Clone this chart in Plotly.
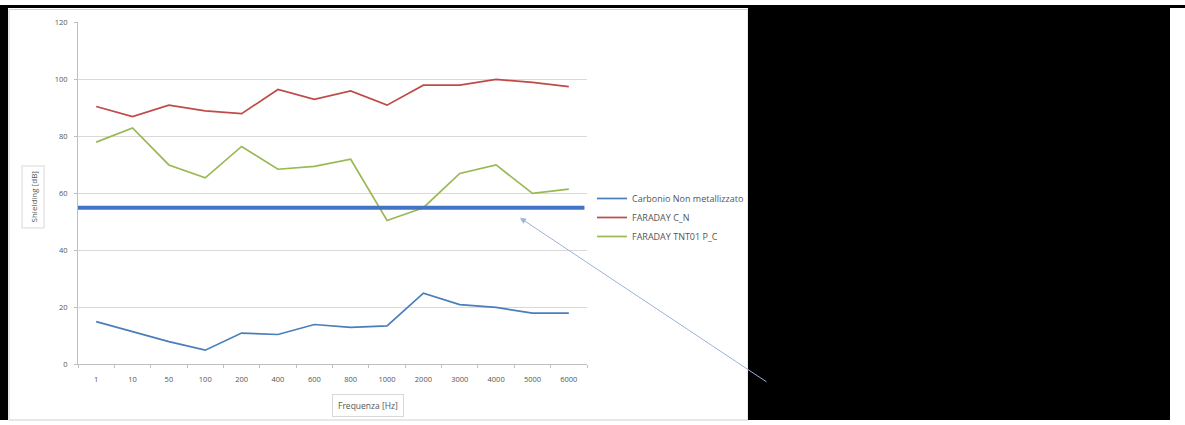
import plotly.graph_objects as go

# Frequencies (categorical axis) and measured shielding in dB
frequencies = ["1", "10", "50", "100", "200", "400", "600", "800",
               "1000", "2000", "3000", "4000", "5000", "6000"]
carbonio = [15, 11.5, 8, 5, 11, 10.5, 14, 13, 13.5, 25, 21, 20, 18, 18]
faraday_cn = [90.5, 87, 91, 89, 88, 96.5, 93, 96, 91, 98, 98, 100, 99, 97.5]
faraday_tnt = [78, 83, 70, 65.5, 76.5, 68.5, 69.5, 72, 50.5, 55, 67, 70, 60, 61.5]
threshold_db = 55
y_ticks = [0, 20, 40, 60, 80, 100, 120]

W, H = 1185, 425
FONT = "Open Sans"


def px_x(v):
    return v / W


def px_y(v):
    # vertical pixel position (from top) to paper fraction
    return min(1.0, max(0.0, 1 - ((v - 4.45) / 0.9796) / H))


fig = go.Figure()
fig.add_trace(go.Scatter(x=frequencies, y=carbonio, mode="lines",
                         name="Carbonio Non metallizzato",
                         line=dict(color="#4a7ebb", width=1.7)))
fig.add_trace(go.Scatter(x=frequencies, y=faraday_cn, mode="lines",
                         name="FARADAY C_N",
                         line=dict(color="#be4b48", width=1.7)))
fig.add_trace(go.Scatter(x=frequencies, y=faraday_tnt, mode="lines",
                         name="FARADAY TNT01 P_C",
                         line=dict(color="#98b954", width=1.7)))

shapes = [
    # thick reference level across the plot
    dict(type="line", xref="x domain", yref="y", x0=0, x1=0.995,
         y0=threshold_db, y1=threshold_db,
         line=dict(color="#4472c4", width=4), layer="above"),
    # light chart-area frame
    dict(type="rect", xref="paper", yref="paper",
         x0=px_x(9), x1=px_x(748), y0=px_y(422), y1=px_y(9),
         line=dict(color="#d0d0d0", width=1), fillcolor="rgba(0,0,0,0)",
         layer="below"),
    # black border strips and block
    dict(type="rect", xref="paper", yref="paper",
         x0=0, x1=px_x(8), y0=0, y1=1,
         line=dict(width=0), fillcolor="black", layer="above"),
    dict(type="rect", xref="paper", yref="paper",
         x0=0, x1=1, y0=px_y(7.5), y1=px_y(4.5),
         line=dict(width=0), fillcolor="black", layer="above"),
    dict(type="rect", xref="paper", yref="paper",
         x0=px_x(748), x1=px_x(1170), y0=0, y1=px_y(7),
         line=dict(width=0), fillcolor="black", layer="above"),
]

annotations = [
    dict(text="Shielding [dB]", textangle=-90, xref="paper", yref="paper",
         x=px_x(33.5), y=px_y(197), xanchor="center", yanchor="middle",
         showarrow=False,
         font=dict(family=FONT, size=8, color="#555555"),
         bordercolor="#d8d8d8", borderwidth=1, borderpad=5,
         bgcolor="white"),
    dict(text="Frequenza [Hz]", xref="paper", yref="paper",
         x=px_x(368), y=px_y(406), xanchor="center", yanchor="middle",
         showarrow=False,
         font=dict(family=FONT, size=8.5, color="#555555"),
         bordercolor="#d8d8d8", borderwidth=1, borderpad=5,
         bgcolor="white"),
    # pointer to the reference level
    dict(text="", xref="paper", yref="paper",
         x=px_x(520), y=px_y(218), ax=248, ay=165,
         showarrow=True, arrowhead=2, arrowsize=1.2, arrowwidth=1,
         arrowcolor="#9db3d6"),
]

fig.update_layout(
    width=W, height=H,
    margin=dict(l=0, r=0, t=0, b=0),
    paper_bgcolor="white", plot_bgcolor="white",
    font=dict(family=FONT, size=7, color="#555555"),
    showlegend=True,
    legend=dict(x=px_x(592), y=px_y(184), xanchor="left", yanchor="top",
                bgcolor="rgba(0,0,0,0)",
                font=dict(family=FONT, size=9, color="#555555"),
                tracegroupgap=0),
    xaxis=dict(domain=[px_x(78), px_x(587)], type="category",
               range=[-0.5, len(frequencies) - 0.5],
               showgrid=False, showline=True, linecolor="#bfbfbf",
               ticks="outside", ticklen=3, tickcolor="#bfbfbf",
               tickson="boundaries", ticklabelstandoff=8,
               tickfont=dict(size=7.5, color="#555555"), fixedrange=True),
    yaxis=dict(domain=[px_y(365), px_y(22)], range=[0, 120],
               tickvals=y_ticks, showgrid=True, gridcolor="#d9d9d9",
               gridwidth=1, showline=True, linecolor="#bfbfbf",
               zeroline=False, ticks="outside", ticklen=3,
               ticklabelstandoff=5,
               tickcolor="#bfbfbf", tickfont=dict(size=7.5, color="#555555"),
               fixedrange=True),
    shapes=shapes,
    annotations=annotations,
)

fig.write_html("out.html")
